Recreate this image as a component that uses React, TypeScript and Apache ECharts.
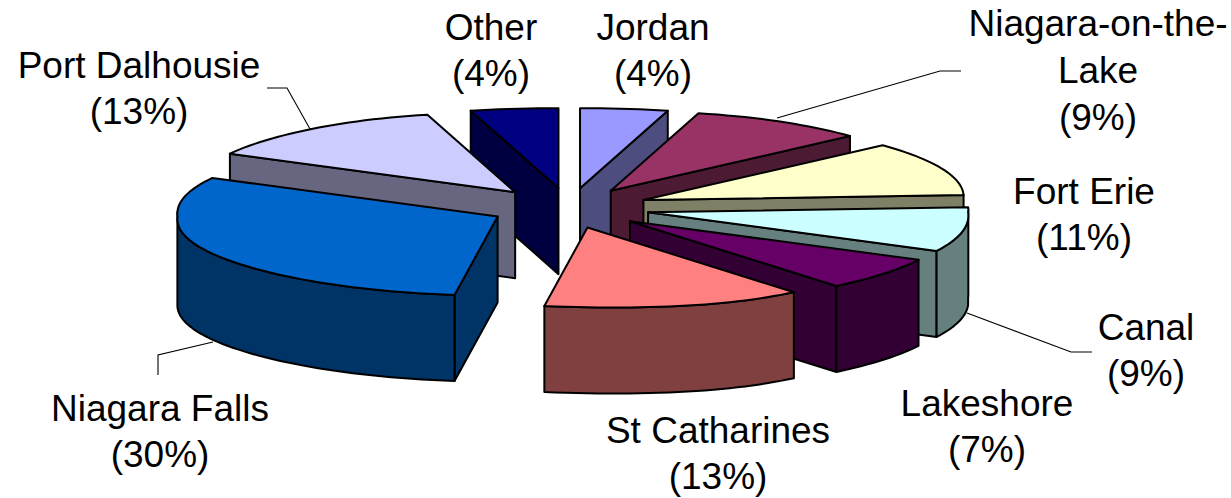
import React, { useEffect, useRef } from "react";
import * as echarts from "echarts";

const names = ["Jordan", "Niagara-on-the-\nLake", "Fort Erie", "Canal", "Lakeshore", "St Catharines", "Niagara Falls", "Port Dalhousie", "Other"];
const values = [4, 9, 11, 9, 7, 13, 30, 13, 4];
const topColors = ["#9999FF", "#993366", "#FFFFCC", "#CCFFFF", "#660066", "#FF8080", "#0066CC", "#CCCCFF", "#000080"];
const wallColors = ["#4D4D80", "#4D1A33", "#808066", "#668080", "#330033", "#804040", "#003366", "#666680", "#000040"];
const labelCenters = [[653, 50], [1098, 70], [1084, 214], [1146, 350], [987, 426], [718, 453], [160, 431], [139, 88], [491, 50]];
const labelLineHeights = [46, 47, 46, 46, 46, 46, 46, 46, 46];
const leaders = [
  [[310, 129], [287, 88], [267, 88]],
  [[777, 118], [940, 71], [961, 71]],
  [[967, 313], [1071, 352], [1092, 352]],
  [[213, 342], [158, 355], [158, 375]],
];

const CX = 570, CY = 208, RX = 320, RY = 80, EXPLODE_X = 80, EXPLODE_Y = 20, DEPTH = 86;
const total = values.reduce((a, b) => a + b, 0);
const starts: number[] = [];
values.reduce((acc, v, i) => { starts[i] = acc; return acc + v; }, 0);
const toAngle = (v: number) => (v / total) * Math.PI * 2;
const midAngle = (i: number) => toAngle(starts[i] + values[i] / 2);
const drawOrder = values.map((_, i) => i).sort((a, b) => -Math.cos(midAngle(a)) + Math.cos(midAngle(b)));

// Horizontal rim offset: the original 3D view is slightly skewed, not a pure ellipse.
function rimX(a: number) {
  const c = Math.cos(a), s = Math.sin(a);
  const widen = 1 + 0.12 * Math.pow(c, 8) + 0.02 * Math.abs(Math.sin(2 * a));
  const skew = c < 0 ? 14 * c * c + 12 * Math.pow(c, 10) : 0;
  return RX * s * widen + skew;
}

function renderItem(_params: any, api: any) {
  const i = api.value(0);
  const a0 = toAngle(starts[i]);
  const a1 = toAngle(starts[i] + values[i]);
  const m = midAngle(i);
  const backLeft = Math.max(0, -Math.sin(m)) * Math.max(0, Math.cos(m));
  const ax = CX + EXPLODE_X * Math.sin(m) - 12 * backLeft;
  const ay = CY - EXPLODE_Y * Math.cos(m);
  const steps = Math.max(4, Math.ceil((a1 - a0) / 0.03));
  const arc: number[][] = [];
  for (let s = 0; s <= steps; s++) {
    const a = a0 + ((a1 - a0) * s) / steps;
    arc.push([ax + rimX(a), ay - RY * Math.cos(a)]);
  }
  const apex = [ax, ay];
  const stroke = { stroke: "#000", lineWidth: 2, lineJoin: "round" };
  const wall = (pts: number[][]) => ({
    type: "polygon",
    shape: { points: [...pts, ...pts.slice().reverse().map((p) => [p[0], p[1] + DEPTH])] },
    style: { fill: wallColors[i], ...stroke },
  });
  const children: any[] = [];
  const first = arc[0], last = arc[arc.length - 1];
  // only the walls that face the viewer are drawn
  if (last[0] > apex[0] + 0.5) children.push(wall([last, apex]));
  if (first[0] < apex[0] - 0.5) children.push(wall([apex, first]));
  const run: number[][] = [];
  for (let s = 0; s < arc.length - 1; s++) {
    if (arc[s + 1][0] < arc[s][0]) {
      if (!run.length) run.push(arc[s]);
      run.push(arc[s + 1]);
    }
  }
  if (run.length) children.push(wall(run));
  children.push({
    type: "polygon",
    shape: { points: [apex, ...arc] },
    style: { fill: topColors[i], ...stroke },
  });
  return { type: "group", children };
}

export default function App() {
  const ref = useRef<HTMLDivElement>(null);
  useEffect(() => {
    const chart = echarts.init(ref.current!, undefined, { renderer: "svg" });
    const font = { fontFamily: "Liberation Sans", fontSize: 37, fill: "#000" };
    chart.setOption({
      animation: false,
      backgroundColor: "#fff",
      series: [{
        type: "custom",
        coordinateSystem: "none",
        silent: true,
        renderItem,
        data: drawOrder.map((i) => ({ value: [i], name: names[i] })),
      }],
      graphic: [
        ...leaders.map((points) => ({
          type: "polyline",
          shape: { points },
          style: { stroke: "#000", lineWidth: 1.1, fill: "none" },
          silent: true,
        })),
        ...names.map((n, i) => ({
          type: "text",
          x: labelCenters[i][0],
          y: labelCenters[i][1],
          style: { ...font, lineHeight: labelLineHeights[i], text: `${n}\n(${values[i]}%)`, align: "center", verticalAlign: "middle" },
          silent: true,
        })),
      ],
    });
    return () => chart.dispose();
  }, []);
  return <div ref={ref} style={{ position: "fixed", left: 0, top: 0, width: 1231, height: 498 }} />;
}
